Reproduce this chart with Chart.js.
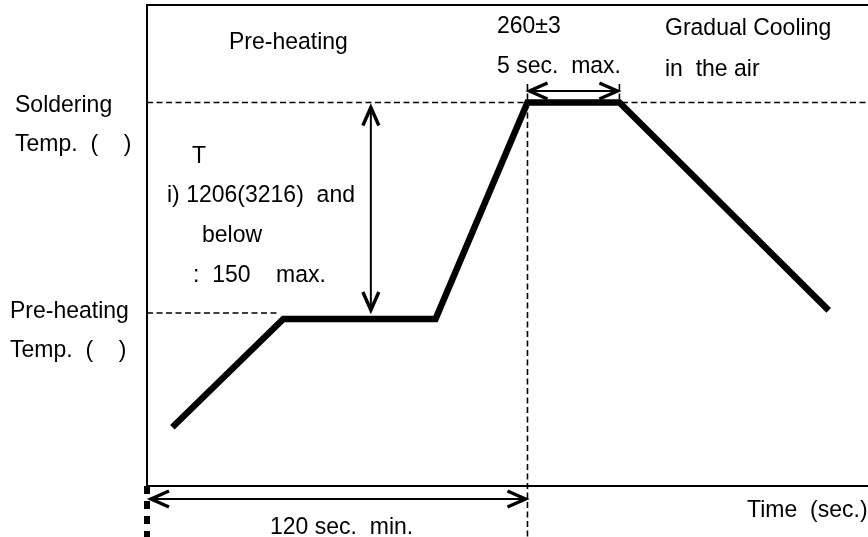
<!DOCTYPE html>
<html><head><meta charset="utf-8">
<script src="https://cdn.jsdelivr.net/npm/chart.js@4/dist/chart.umd.min.js"></script>
<style>html,body{margin:0;padding:0;background:#fff;}#wrap{width:868px;height:537px;}</style>
</head><body><div id="wrap"><canvas id="c" width="868" height="537"></canvas></div>
<script>
// Reflow soldering profile (schematic)
const timeSec = [8, 43, 91, 120, 149, 215];
const tempC   = [35, 110, 110, 260, 260, 116];
const solderTemp = 260;
const preheatTemp = 110;
const preheatMinTime = 120;   // "120 sec. min."
const peakEndTime = 149;      // "5 sec. max." span end
const deltaArrowTime = 70.6;
const peakArrowTemp = 268;
const xRange = [0, 227.4];
const yRange = [-5.7, 327.6];
const labels = {
  preheat: 'Pre-heating',
  peak: '260±3',
  peakTime: '5 sec.  max.',
  cool1: 'Gradual Cooling',
  cool2: 'in  the air',
  solder1: 'Soldering',
  solder2: 'Temp.  (    )',
  dT: 'T',
  dT1: 'i) 1206(3216)  and',
  dT2: 'below',
  dT3: ':  150    max.',
  pre1: 'Pre-heating',
  pre2: 'Temp.  (    )',
  minTime: '120 sec.  min.',
  xTitle: 'Time  (sec.)'
};

function arrowHead(ctx, tx, ty, dx, dy) {
  const L = 18, W = 8;
  const len = Math.hypot(dx, dy); dx /= len; dy /= len;
  const px = -dy, py = dx;
  ctx.beginPath();
  ctx.moveTo(tx - dx * L + px * W, ty - dy * L + py * W);
  ctx.lineTo(tx, ty);
  ctx.lineTo(tx - dx * L - px * W, ty - dy * L - py * W);
  ctx.stroke();
}
function dblArrow(ctx, x1, y1, x2, y2) {
  ctx.save();
  ctx.strokeStyle = '#000';
  ctx.lineWidth = 2;
  ctx.beginPath(); ctx.moveTo(x1, y1); ctx.lineTo(x2, y2); ctx.stroke();
  ctx.lineWidth = 3.4;
  ctx.lineJoin = 'miter';
  ctx.miterLimit = 10;
  arrowHead(ctx, x2, y2, x2 - x1, y2 - y1);
  arrowHead(ctx, x1, y1, x1 - x2, y1 - y2);
  ctx.restore();
}

const framePlugin = {
  id: 'frame',
  beforeDatasetsDraw(chart) {
    const {ctx, chartArea: a, scales: {x, y}} = chart;
    ctx.save();
    ctx.strokeStyle = '#000';
    // frame: top, left, bottom
    ctx.lineWidth = 2;
    ctx.beginPath();
    ctx.moveTo(chart.width, a.top); ctx.lineTo(a.left, a.top);
    ctx.lineTo(a.left, a.bottom); ctx.lineTo(chart.width, a.bottom);
    ctx.stroke();
    // dashed reference lines
    ctx.lineWidth = 1.6;
    ctx.setLineDash([6, 3.5]);
    const ys = y.getPixelForValue(solderTemp);
    const yp = y.getPixelForValue(preheatTemp) - 6;
    ctx.beginPath(); ctx.moveTo(a.left, ys); ctx.lineTo(chart.width, ys); ctx.stroke();
    ctx.beginPath(); ctx.moveTo(a.left, yp); ctx.lineTo(x.getPixelForValue(timeSec[1]) - 5, yp); ctx.stroke();
    const yTop = y.getPixelForValue(peakArrowTemp) - 7;
    const x120 = x.getPixelForValue(preheatMinTime);
    ctx.beginPath(); ctx.moveTo(x120, yTop); ctx.lineTo(x120, chart.height); ctx.stroke();
    const xe = x.getPixelForValue(peakEndTime);
    ctx.beginPath(); ctx.moveTo(xe, yTop); ctx.lineTo(xe, ys); ctx.stroke();
    // thick dashes under origin
    ctx.lineWidth = 6;
    ctx.setLineDash([8, 7]);
    ctx.beginPath(); ctx.moveTo(a.left, a.bottom); ctx.lineTo(a.left, chart.height); ctx.stroke();
    ctx.restore();
  },
  afterDraw(chart) {
    const {ctx, chartArea: a, scales: {x, y}} = chart;
    // arrows
    const ys = y.getPixelForValue(solderTemp);
    const yp = y.getPixelForValue(preheatTemp);
    const xa = x.getPixelForValue(deltaArrowTime);
    dblArrow(ctx, xa, ys + 5, xa, yp - 9);
    const yh = y.getPixelForValue(peakArrowTemp);
    dblArrow(ctx, x.getPixelForValue(preheatMinTime) + 2, yh, x.getPixelForValue(peakEndTime) - 2, yh);
    dblArrow(ctx, a.left + 4, a.bottom + 13, x.getPixelForValue(preheatMinTime) - 2, a.bottom + 13);
    // texts
    ctx.save();
    ctx.fillStyle = '#000';
    ctx.font = '23px "Liberation Sans", Arial, sans-serif';
    ctx.textBaseline = 'alphabetic';
    ctx.textAlign = 'left';
    const t = (s, px, py) => {
      ctx.save();
      ctx.translate(px, py);
      ctx.scale(1, 1.06);
      ctx.fillText(s, 0, 0);
      ctx.restore();
    };
    t(labels.preheat, 229, 49);
    t(labels.peak, 497, 33);
    t(labels.peakTime, 497, 73);
    t(labels.cool1, 665, 35);
    t(labels.cool2, 665, 76);
    t(labels.solder1, 15, 112);
    t(labels.solder2, 15, 151);
    t(labels.dT, 192, 163);
    t(labels.dT1, 167, 202);
    t(labels.dT2, 202, 242);
    t(labels.dT3, 193, 282);
    t(labels.pre1, 10, 318);
    t(labels.pre2, 10, 357);
    t(labels.minTime, 270, 534);
    t(labels.xTitle, 747, 517);
    ctx.restore();
  }
};

new Chart(document.getElementById('c'), {
  type: 'line',
  data: {
    datasets: [{
      data: timeSec.map((v, i) => ({x: v, y: tempC[i]})),
      borderColor: '#000',
      borderWidth: 6.5,
      borderJoinStyle: 'miter',
      borderCapStyle: 'butt',
      pointRadius: 0,
      tension: 0,
      fill: false,
      clip: false
    }]
  },
  options: {
    responsive: false,
    animation: false,
    events: [],
    layout: {padding: {left: 147, top: 5, right: 0, bottom: 51}},
    plugins: {legend: {display: false}, tooltip: {enabled: false}, title: {display: false}},
    scales: {
      x: {type: 'linear', display: false, min: xRange[0], max: xRange[1]},
      y: {type: 'linear', display: false, min: yRange[0], max: yRange[1]}
    }
  },
  plugins: [framePlugin]
});
</script>
</body></html>
